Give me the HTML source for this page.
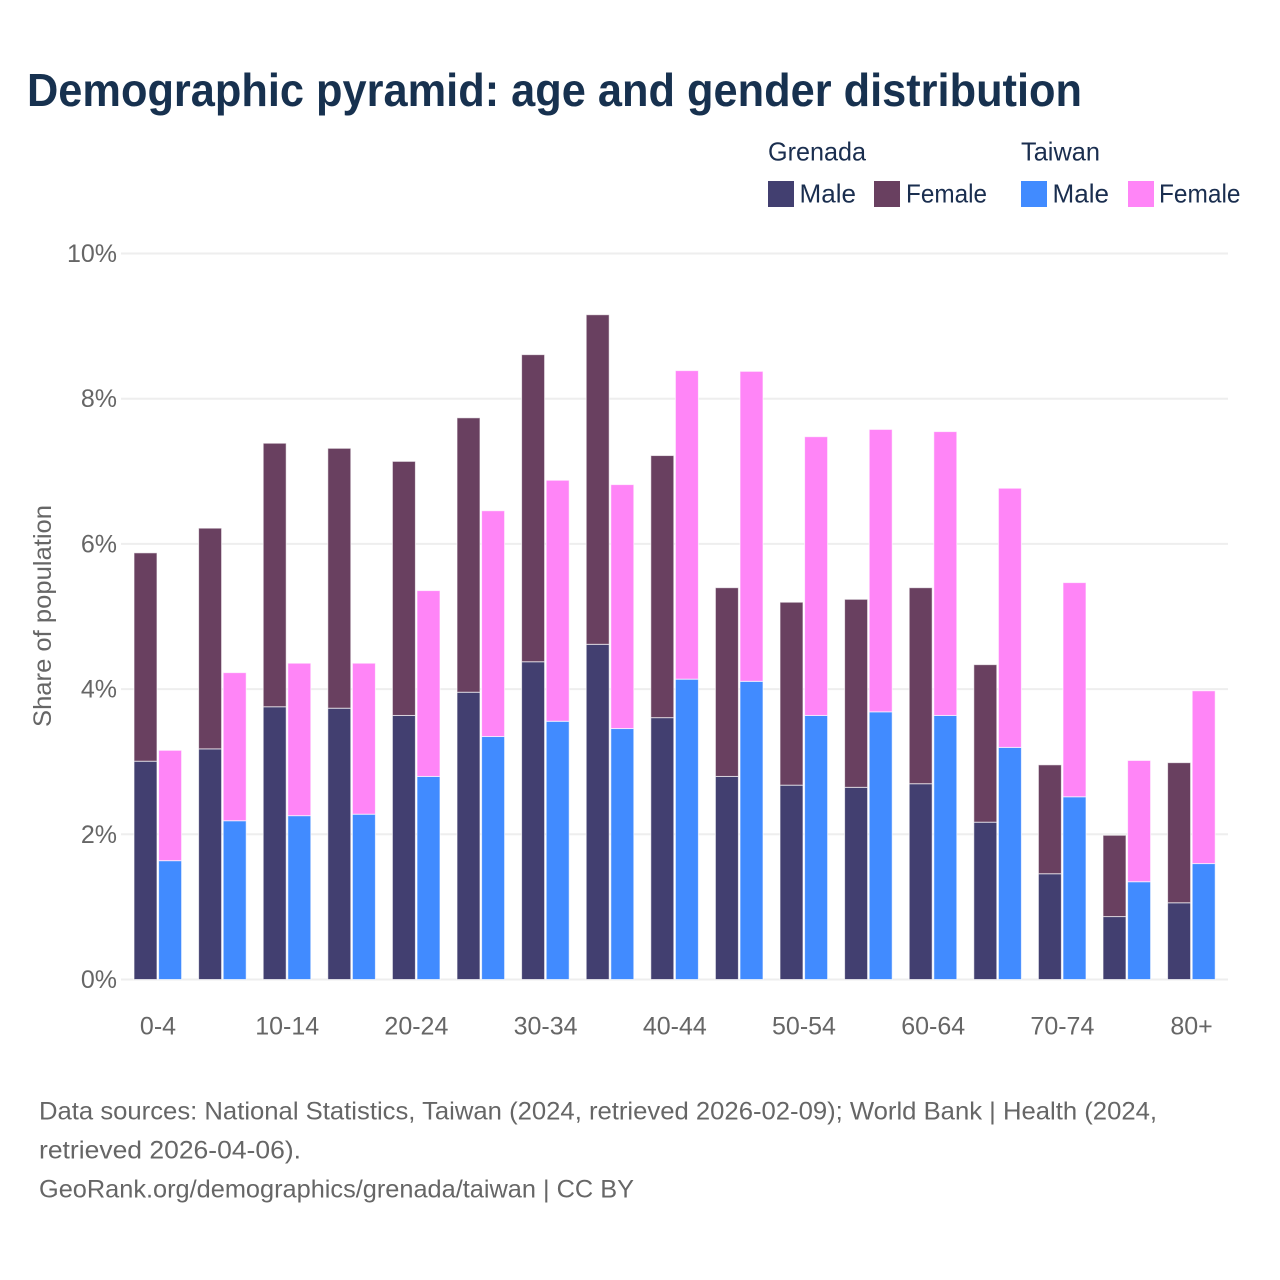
<!DOCTYPE html>
<html lang="en">
<head>
<meta charset="utf-8">
<title>Demographic pyramid: age and gender distribution</title>
<style>
html,body{margin:0;padding:0;background:#fff;width:1280px;height:1280px;overflow:hidden}
svg{display:block}
text{font-family:"Liberation Sans",sans-serif}
</style>
</head>
<body>
<svg id="chart" xmlns="http://www.w3.org/2000/svg" width="1280" height="1280" viewBox="0 0 1280 1280">
  <rect x="0" y="0" width="1280" height="1280" fill="#fff"/>
  <text x="27" y="106" font-size="46" font-weight="700" fill="#17314f" textLength="1055" lengthAdjust="spacingAndGlyphs">Demographic pyramid: age and gender distribution</text>

  <g font-size="26" fill="#1a2e4f">
    <text x="768" y="160.5" textLength="98" lengthAdjust="spacingAndGlyphs">Grenada</text>
    <text x="1021" y="160.5" textLength="79" lengthAdjust="spacingAndGlyphs">Taiwan</text>
    <rect x="768" y="181" width="26" height="26" fill="#423f70"/>
    <text x="799.5" y="202.5" textLength="56.5" lengthAdjust="spacingAndGlyphs">Male</text>
    <rect x="874" y="181" width="26" height="26" fill="#694060"/>
    <text x="906" y="202.5" textLength="81" lengthAdjust="spacingAndGlyphs">Female</text>
    <rect x="1021" y="181" width="26" height="26" fill="#418bff"/>
    <text x="1052.5" y="202.5" textLength="56.5" lengthAdjust="spacingAndGlyphs">Male</text>
    <rect x="1128" y="181" width="26" height="26" fill="#ff85f7"/>
    <text x="1159" y="202.5" textLength="81.5" lengthAdjust="spacingAndGlyphs">Female</text>
  </g>

  <g id="grid"></g>
  <g id="bars" transform="translate(0,-0.5)"></g>
  <g id="y-axis"></g>
  <g id="x-axis"></g>

  <text transform="translate(51,727) rotate(-90)" x="0" y="0" font-size="25" fill="#666" textLength="222" lengthAdjust="spacingAndGlyphs">Share of population</text>

  <g font-size="25" fill="#666">
    <text x="39" y="1119.5" textLength="1118" lengthAdjust="spacingAndGlyphs">Data sources: National Statistics, Taiwan (2024, retrieved 2026-02-09); World Bank | Health (2024,</text>
    <text x="39" y="1158.5" textLength="262" lengthAdjust="spacingAndGlyphs">retrieved 2026-04-06).</text>
    <text x="39" y="1197.5" textLength="595" lengthAdjust="spacingAndGlyphs">GeoRank.org/demographics/grenada/taiwan | CC BY</text>
  </g>
</svg>
<script>
const categories = ["0-4","5-9","10-14","15-19","20-24","25-29","30-34","35-39","40-44","45-49","50-54","55-59","60-64","65-69","70-74","75-79","80+"];
const xTickLabels = ["0-4","10-14","20-24","30-34","40-44","50-54","60-64","70-74","80+"];
const yTicks = [0,2,4,6,8,10];
const grenadaMale = [3.00,3.17,3.75,3.73,3.63,3.95,4.37,4.61,3.60,2.79,2.67,2.64,2.69,2.16,1.45,0.86,1.05];
const grenadaFemale = [2.87,3.04,3.63,3.58,3.50,3.78,4.23,4.54,3.61,2.60,2.52,2.59,2.70,2.17,1.50,1.12,1.93];
const taiwanMale = [1.63,2.18,2.25,2.27,2.79,3.34,3.55,3.45,4.13,4.10,3.63,3.68,3.63,3.19,2.51,1.34,1.59];
const taiwanFemale = [1.52,2.04,2.10,2.08,2.56,3.11,3.32,3.36,4.25,4.27,3.84,3.89,3.91,3.57,2.95,1.67,2.38];

const NS = "http://www.w3.org/2000/svg";
const gridLayer = document.getElementById("grid");
const barLayer = document.getElementById("bars");
const yLayer = document.getElementById("y-axis");
const xLayer = document.getElementById("x-axis");

function yScale(v){ return 979.5 - v * 72.6; }
function xCenter(i){ return 158 + i * 64.6; }

function makeRect(x, y, w, h, fill){
  const r = document.createElementNS(NS, "rect");
  r.setAttribute("x", x);
  r.setAttribute("y", y);
  r.setAttribute("width", w);
  r.setAttribute("height", h);
  r.setAttribute("fill", fill);
  r.setAttribute("stroke", "#fff");
  r.setAttribute("stroke-opacity", "0.65");
  r.setAttribute("stroke-width", "1");
  return r;
}

function makeText(x, y, anchor, str){
  const t = document.createElementNS(NS, "text");
  t.setAttribute("x", x);
  t.setAttribute("y", y);
  t.setAttribute("text-anchor", anchor);
  t.setAttribute("font-size", "25");
  t.setAttribute("fill", "#666");
  t.textContent = str;
  return t;
}

yTicks.forEach(function(v){
  const line = document.createElementNS(NS, "line");
  line.setAttribute("x1", 121);
  line.setAttribute("x2", 1228);
  line.setAttribute("y1", yScale(v));
  line.setAttribute("y2", yScale(v));
  line.setAttribute("stroke", "#eeeeee");
  line.setAttribute("stroke-width", "2");
  
  
  gridLayer.appendChild(line);

  const label = makeText(117, yScale(v) + 8.5, "end", v + "%");
  
  
  yLayer.appendChild(label);
});

xTickLabels.forEach(function(name){
  const label = makeText(xCenter(categories.indexOf(name)), 1034.5, "middle", name);
  
  
  xLayer.appendChild(label);
});

categories.forEach(function(cat, i){
  const c = xCenter(i);
  const barW = 23;

  const gm = makeRect(c - 24, yScale(grenadaMale[i]), barW, yScale(0) - yScale(grenadaMale[i]) + 0.5, "#423f70");
  
  
  barLayer.appendChild(gm);

  const gfTop = grenadaMale[i] + grenadaFemale[i];
  const gf = makeRect(c - 24, yScale(gfTop), barW, yScale(grenadaMale[i]) - yScale(gfTop), "#694060");
  
  
  barLayer.appendChild(gf);

  const tm = makeRect(c + 0.6, yScale(taiwanMale[i]), barW, yScale(0) - yScale(taiwanMale[i]) + 0.5, "#418bff");
  
  
  barLayer.appendChild(tm);

  const tfTop = taiwanMale[i] + taiwanFemale[i];
  const tf = makeRect(c + 0.6, yScale(tfTop), barW, yScale(taiwanMale[i]) - yScale(tfTop), "#ff85f7");
  
  
  barLayer.appendChild(tf);
});
</script>
</body>
</html>
